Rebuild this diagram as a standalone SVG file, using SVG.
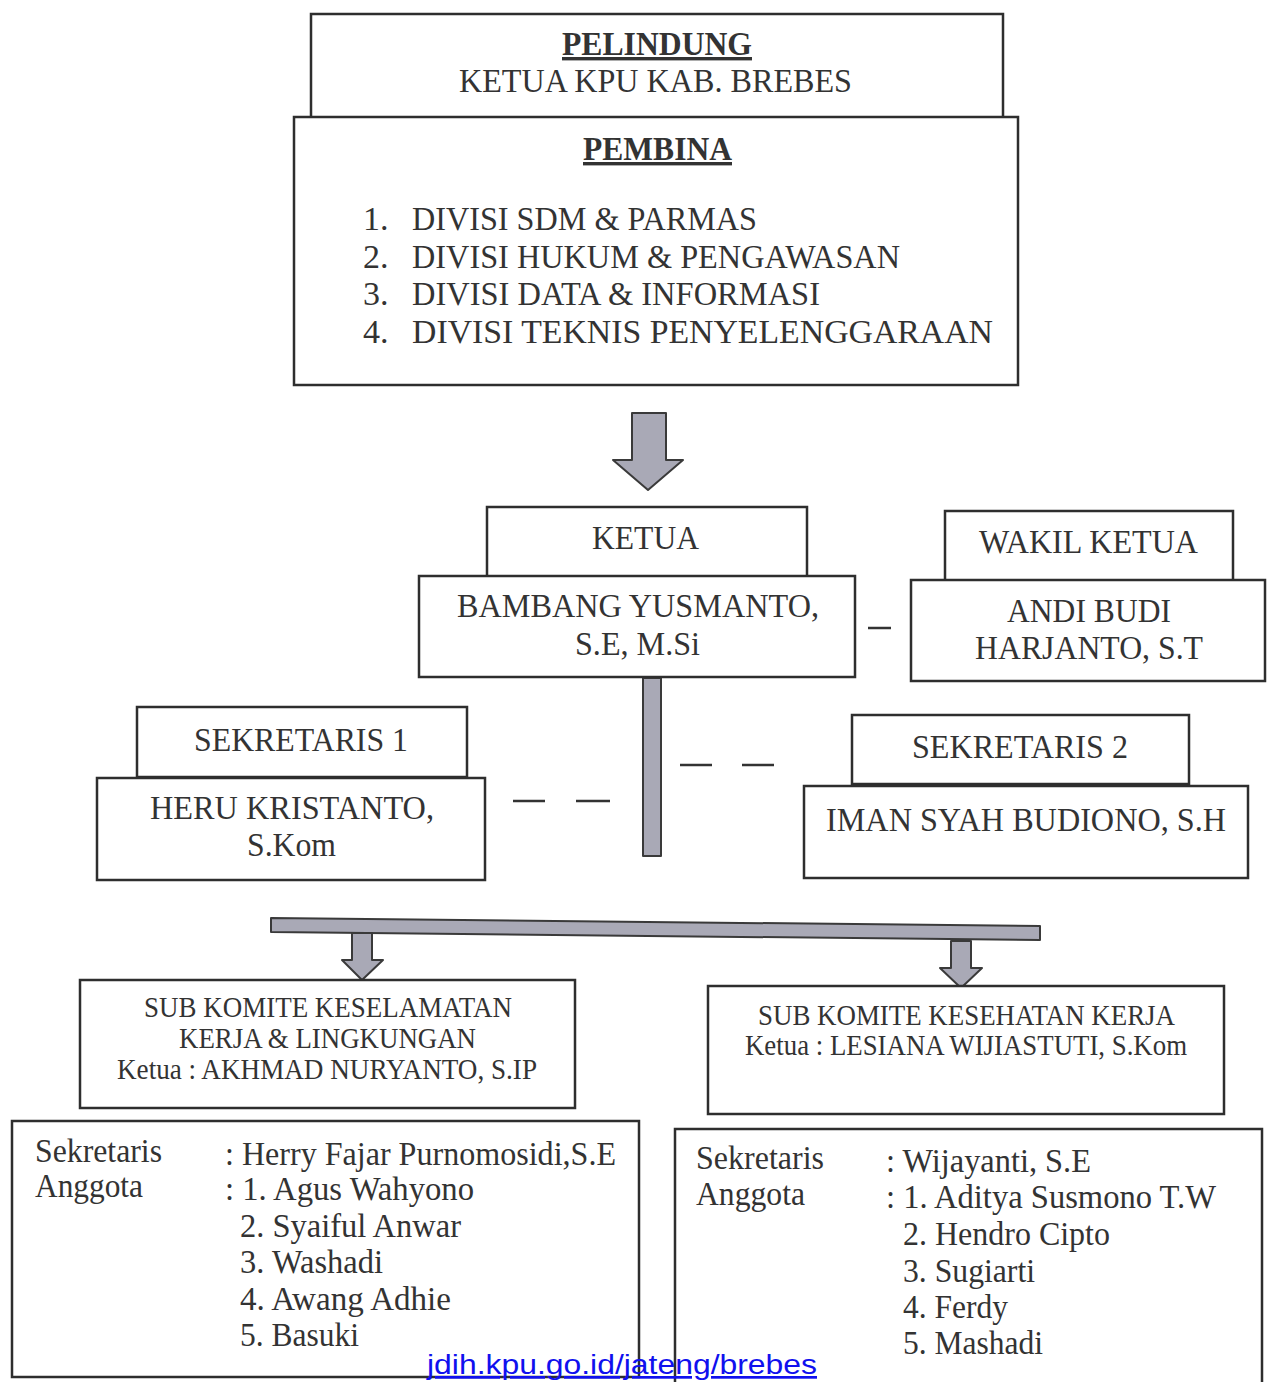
<svg xmlns="http://www.w3.org/2000/svg" width="1267" height="1382" viewBox="0 0 1267 1382">
<style>
.bx{fill:#fff;stroke:#2e2e2e;stroke-width:2.5}
.t{font-family:"Liberation Serif","Times New Roman",serif;fill:#333;font-size:34px}
.b{font-weight:bold}
.s{font-size:29px}
.m{font-size:33px}
.ar{fill:#a9a9b6;stroke:#3a3a3a;stroke-width:2;stroke-linejoin:round}
.dash{stroke:#333;stroke-width:2.5}
.wm{font-family:"Liberation Sans",Arial,sans-serif;font-size:27px;fill:#1010ee;text-decoration:underline}
</style>
<rect width="1267" height="1382" fill="#fff"/>

<g id="connectors">
  <polygon class="ar" points="632,413 666,413 666,460 683,460 648,490 613,460 632,460"/>
  <rect class="ar" x="643" y="678" width="18" height="178"/>
  <line class="dash" x1="868" y1="628" x2="891" y2="628"/>
  <line class="dash" x1="513" y1="801" x2="545" y2="801"/>
  <line class="dash" x1="576" y1="801" x2="610" y2="801"/>
  <line class="dash" x1="680" y1="765" x2="712" y2="765"/>
  <line class="dash" x1="742" y1="765" x2="774" y2="765"/>
  <polygon class="ar" points="271,918 1040,926 1040,940 271,932"/>
  <polygon class="ar" points="352,933 372,933 372,960 383,960 362,980 342,960 352,960"/>
  <polygon class="ar" points="951,941 971,941 971,968 982,968 961,988 940,968 951,968"/>
</g>

<g id="pelindung">
  <rect class="bx" x="311" y="14" width="692" height="110"/>
  <text class="t b" x="562" y="55" textLength="190" lengthAdjust="spacingAndGlyphs" text-decoration="underline">PELINDUNG</text>
  <text class="t" x="459" y="92" font-size="36" textLength="393" lengthAdjust="spacingAndGlyphs">KETUA KPU KAB. BREBES</text>
</g>

<g id="pembina">
  <rect class="bx" x="294" y="117" width="724" height="268"/>
  <text class="t b" x="583" y="160" textLength="149" lengthAdjust="spacingAndGlyphs" text-decoration="underline">PEMBINA</text>
  <text class="t" x="363" y="230">1.</text>
  <text class="t" x="412" y="230" textLength="345" lengthAdjust="spacingAndGlyphs">DIVISI SDM &amp; PARMAS</text>
  <text class="t" x="363" y="268">2.</text>
  <text class="t" x="412" y="268" textLength="488" lengthAdjust="spacingAndGlyphs">DIVISI HUKUM &amp; PENGAWASAN</text>
  <text class="t" x="363" y="305">3.</text>
  <text class="t" x="412" y="305" textLength="408" lengthAdjust="spacingAndGlyphs">DIVISI DATA &amp; INFORMASI</text>
  <text class="t" x="363" y="343">4.</text>
  <text class="t" x="412" y="343" textLength="581" lengthAdjust="spacingAndGlyphs">DIVISI TEKNIS PENYELENGGARAAN</text>
</g>

<g id="ketua">
  <rect class="bx" x="487" y="507" width="320" height="70"/>
  <text class="t" x="592" y="549" textLength="107" lengthAdjust="spacingAndGlyphs">KETUA</text>
  <rect class="bx" x="419" y="576" width="436" height="101"/>
  <text class="t" x="457" y="617" textLength="362" lengthAdjust="spacingAndGlyphs">BAMBANG YUSMANTO,</text>
  <text class="t" x="575" y="655" textLength="125" lengthAdjust="spacingAndGlyphs">S.E, M.Si</text>
</g>

<g id="wakil-ketua">
  <rect class="bx" x="945" y="511" width="288" height="70"/>
  <text class="t" x="979" y="553" textLength="219" lengthAdjust="spacingAndGlyphs">WAKIL KETUA</text>
  <rect class="bx" x="911" y="580" width="354" height="101"/>
  <text class="t" x="1007" y="622" textLength="164" lengthAdjust="spacingAndGlyphs">ANDI BUDI</text>
  <text class="t" x="975" y="659" textLength="228" lengthAdjust="spacingAndGlyphs">HARJANTO, S.T</text>
</g>

<g id="sekretaris-1">
  <rect class="bx" x="137" y="707" width="330" height="70"/>
  <text class="t" x="194" y="751" textLength="214" lengthAdjust="spacingAndGlyphs">SEKRETARIS 1</text>
  <rect class="bx" x="97" y="778" width="388" height="102"/>
  <text class="t" x="150" y="819" textLength="284" lengthAdjust="spacingAndGlyphs">HERU KRISTANTO,</text>
  <text class="t" x="247" y="856" textLength="89" lengthAdjust="spacingAndGlyphs">S.Kom</text>
</g>

<g id="sekretaris-2">
  <rect class="bx" x="852" y="715" width="337" height="69"/>
  <text class="t" x="912" y="758" textLength="216" lengthAdjust="spacingAndGlyphs">SEKRETARIS 2</text>
  <rect class="bx" x="804" y="786" width="444" height="92"/>
  <text class="t" x="826" y="831" textLength="400" lengthAdjust="spacingAndGlyphs">IMAN SYAH BUDIONO, S.H</text>
</g>

<g id="sub-komite-k3l">
  <rect class="bx" x="80" y="980" width="495" height="128"/>
  <text class="t s" x="144" y="1017" textLength="368" lengthAdjust="spacingAndGlyphs">SUB KOMITE KESELAMATAN</text>
  <text class="t s" x="179" y="1048" textLength="297" lengthAdjust="spacingAndGlyphs">KERJA &amp; LINGKUNGAN</text>
  <text class="t s" x="117" y="1079" textLength="420" lengthAdjust="spacingAndGlyphs">Ketua : AKHMAD NURYANTO, S.IP</text>
</g>

<g id="sub-komite-kesehatan">
  <rect class="bx" x="708" y="986" width="516" height="128"/>
  <text class="t s" x="758" y="1025" textLength="417" lengthAdjust="spacingAndGlyphs">SUB KOMITE KESEHATAN KERJA</text>
  <text class="t s" x="745" y="1055" textLength="442" lengthAdjust="spacingAndGlyphs">Ketua : LESIANA WIJIASTUTI, S.Kom</text>
</g>

<g id="anggota-k3l">
  <rect class="bx" x="12" y="1121" width="627" height="256"/>
  <text class="t m" x="35" y="1162" textLength="127" lengthAdjust="spacingAndGlyphs">Sekretaris</text>
  <text class="t m" x="225" y="1165" textLength="391" lengthAdjust="spacingAndGlyphs">: Herry Fajar Purnomosidi,S.E</text>
  <text class="t m" x="35" y="1197" textLength="108" lengthAdjust="spacingAndGlyphs">Anggota</text>
  <text class="t m" x="225" y="1200" textLength="249" lengthAdjust="spacingAndGlyphs">: 1. Agus Wahyono</text>
  <text class="t m" x="240" y="1237" textLength="221" lengthAdjust="spacingAndGlyphs">2. Syaiful Anwar</text>
  <text class="t m" x="240" y="1273" textLength="143" lengthAdjust="spacingAndGlyphs">3. Washadi</text>
  <text class="t m" x="240" y="1310" textLength="211" lengthAdjust="spacingAndGlyphs">4. Awang Adhie</text>
  <text class="t m" x="240" y="1346" textLength="119" lengthAdjust="spacingAndGlyphs">5. Basuki</text>
</g>

<g id="anggota-kesehatan">
  <rect class="bx" x="675" y="1129" width="587" height="270"/>
  <text class="t m" x="696" y="1169" textLength="128" lengthAdjust="spacingAndGlyphs">Sekretaris</text>
  <text class="t m" x="886" y="1172" textLength="205" lengthAdjust="spacingAndGlyphs">: Wijayanti, S.E</text>
  <text class="t m" x="696" y="1205" textLength="109" lengthAdjust="spacingAndGlyphs">Anggota</text>
  <text class="t m" x="886" y="1208" textLength="330" lengthAdjust="spacingAndGlyphs">: 1. Aditya Susmono T.W</text>
  <text class="t m" x="903" y="1245" textLength="207" lengthAdjust="spacingAndGlyphs">2. Hendro Cipto</text>
  <text class="t m" x="903" y="1282" textLength="132" lengthAdjust="spacingAndGlyphs">3. Sugiarti</text>
  <text class="t m" x="903" y="1318" textLength="105" lengthAdjust="spacingAndGlyphs">4. Ferdy</text>
  <text class="t m" x="903" y="1354" textLength="140" lengthAdjust="spacingAndGlyphs">5. Mashadi</text>
</g>

<text class="wm" x="427" y="1374" textLength="390" lengthAdjust="spacingAndGlyphs">jdih.kpu.go.id/jateng/brebes</text>
</svg>
